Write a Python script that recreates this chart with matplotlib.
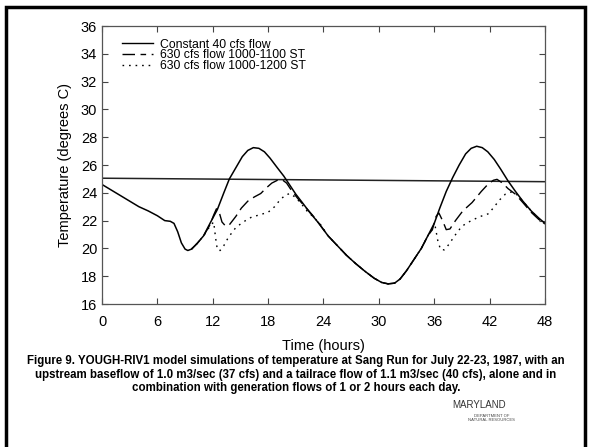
import numpy as np
import matplotlib
matplotlib.use('Agg')
import matplotlib.pyplot as plt
from matplotlib.patches import Rectangle
from matplotlib.lines import Line2D

plt.rcParams['font.family'] = ['Liberation Sans', 'DejaVu Sans']

# Constant 40 cfs flow (solid)
hours_const = [0, 1, 2, 3, 4, 5, 6, 6.8, 7.4, 7.8, 8.2, 8.6, 9.0, 9.3, 9.7, 10.3, 11, 11.7,
               12.5, 13.2, 13.8, 14.5, 15.2, 15.8, 16.4, 17, 17.6, 18.2, 19, 19.7, 20.3, 21,
               21.7, 22.5, 23.5, 24.5, 25.5, 26.5, 27.5, 28.5, 29.5, 30.3, 31, 31.7, 32.3, 33,
               33.8, 34.6, 35.3, 36, 36.6, 37.3, 38, 38.7, 39.4, 40, 40.6, 41.2, 41.8, 42.5,
               43.2, 44, 44.8, 45.6, 46.5, 47.3, 48]
temp_const = [24.6, 24.2, 23.8, 23.4, 23.0, 22.7, 22.35, 22.0, 21.95, 21.8, 21.2, 20.4, 19.95,
              19.85, 19.95, 20.35, 20.9, 21.8, 22.8, 24.0, 25.0, 25.8, 26.6, 27.05, 27.25, 27.2,
              26.95, 26.5, 25.8, 25.2, 24.6, 23.9, 23.3, 22.6, 21.8, 20.9, 20.2, 19.5, 18.9,
              18.35, 17.85, 17.55, 17.45, 17.5, 17.8, 18.4, 19.2, 20.0, 20.9, 21.8, 22.9, 24.1,
              25.1, 26.0, 26.8, 27.2, 27.35, 27.25, 26.95, 26.4, 25.7, 24.85, 24.1, 23.4, 22.7,
              22.2, 21.8]

# night trough shared by the two generation runs
hours_trough = [24.5, 25.5, 26.5, 27.5, 28.5, 29.5, 30.3, 31, 31.7, 32.3, 33, 33.8, 34.6, 35.3]
temp_trough = [20.9, 20.2, 19.5, 18.9, 18.35, 17.85, 17.55, 17.45, 17.5, 17.8, 18.4, 19.2,
               20.0, 20.9]

# 630 cfs flow 1000-1100 ST (dashed)
hours_1100_day1 = [9.7, 10.3, 11, 11.7, 12.1, 12.4, 12.7, 13.0, 13.4, 13.8, 14.5, 15.1, 15.8,
                   16.5, 17.2, 17.8, 18.4, 19.0, 19.5, 20.0, 20.5, 21.2, 22, 22.8, 23.5]
temp_1100_day1 = [19.95, 20.35, 20.9, 21.7, 22.4, 22.85, 22.6, 21.9, 21.6, 21.7, 22.3, 22.9,
                  23.4, 23.7, 23.95, 24.35, 24.7, 24.9, 24.95, 24.7, 24.2, 23.6, 23.0, 22.4, 21.8]
hours_1100_day2 = [35.8, 36.2, 36.5, 36.9, 37.3, 37.7, 38.3, 39.1, 40.1, 41.1, 41.8, 42.4, 42.8,
                   43.4, 44, 44.8, 45.6, 46.5, 47.3, 48]
temp_1100_day2 = [21.35, 22.3, 22.55, 22.0, 21.35, 21.4, 22.0, 22.7, 23.3, 24.1, 24.6, 24.9,
                  24.97, 24.7, 24.3, 23.9, 23.3, 22.6, 22.1, 21.75]

# 630 cfs flow 1000-1200 ST (dotted)
hours_1200_day1 = [9.7, 10.3, 11, 11.7, 12.1, 12.3, 12.5, 12.8, 13.2, 13.7, 14.5, 15.3, 16.2,
                   17, 18, 18.7, 19.3, 19.9, 20.4, 20.9, 21.5, 22.2, 23, 23.7]
temp_1200_day1 = [19.95, 20.35, 20.9, 21.6, 21.9, 20.8, 19.9, 19.85, 20.2, 20.8, 21.5, 21.9,
                  22.25, 22.4, 22.6, 23.0, 23.5, 23.85, 23.95, 23.7, 23.3, 22.7, 22.2, 21.7]
hours_1200_day2 = [35.8, 36.1, 36.4, 36.7, 37.1, 37.6, 38.2, 39, 40, 41, 41.9, 42.5, 43.1, 43.7,
                   44.3, 44.9, 45.6, 46.5, 47.3, 48]
temp_1200_day2 = [21.4, 21.6, 20.5, 19.9, 19.9, 20.3, 20.9, 21.6, 22.0, 22.3, 22.5, 23.0, 23.5,
                  23.9, 24.05, 23.9, 23.4, 22.7, 22.15, 21.75]

# horizontal reference line across the plot
hours_ref = [0, 48]
temp_ref = [25.05, 24.8]

xticks = [0, 6, 12, 18, 24, 30, 36, 42, 48]
yticks = [16, 18, 20, 22, 24, 26, 28, 30, 32, 34, 36]

caption = ("Figure 9. YOUGH-RIV1 model simulations of temperature at Sang Run for July 22-23, 1987, with an\n"
           "upstream baseflow of 1.0 m3/sec (37 cfs) and a tailrace flow of 1.1 m3/sec (40 cfs), alone and in\n"
           "combination with generation flows of 1 or 2 hours each day.")

fig = plt.figure(figsize=(5.92, 4.47), dpi=100)
ax = fig.add_axes([0.1723, 0.3199, 0.7483, 0.6219])

hours_1100 = hours_1100_day1 + hours_trough + hours_1100_day2
temp_1100 = temp_1100_day1 + temp_trough + temp_1100_day2
hours_1200 = hours_1200_day1 + hours_trough + hours_1200_day2
temp_1200 = temp_1200_day1 + temp_trough + temp_1200_day2

ax.plot(hours_ref, temp_ref, color='#222222', lw=1.1)
ax.plot(hours_const, temp_const, color='black', lw=1.1)
ax.plot(hours_1100, temp_1100, color='black', lw=1.0, dashes=(9, 4))
ax.plot(hours_1200, temp_1200, color='black', lw=1.0, dashes=(1.2, 3.5))

ax.set_xlim(0, 48)
ax.set_ylim(16, 36)
ax.set_xticks(xticks)
ax.set_yticks(yticks)
ax.tick_params(direction='in', length=4, width=0.8, labelsize=10.5, top=True, right=True,
               color='#444444')
ax.tick_params(axis='x', pad=8)
for s in ax.spines.values():
    s.set_color('#555555')
    s.set_linewidth(0.9)

ax.set_xlabel('Time (hours)', fontsize=10.5, labelpad=7)
ax.set_ylabel('Temperature (degrees C)', fontsize=10.5, labelpad=6)

handles = [Line2D([], [], color='black', lw=1.0),
           Line2D([], [], color='black', lw=1.0, dashes=(9, 4, 4, 4)),
           Line2D([], [], color='black', lw=1.0, dashes=(1.2, 3.5))]
labels = ['Constant 40 cfs flow', '630 cfs flow 1000-1100 ST', '630 cfs flow 1000-1200 ST']
ax.legend(handles, labels, loc='upper left', bbox_to_anchor=(0.025, 0.985), frameon=False,
          fontsize=8.8, handlelength=2.6, labelspacing=-0.12, handletextpad=0.55, borderpad=0.2)

fig.text(0.5, 0.205, caption, ha='center', va='top', fontsize=8.3, fontweight='bold',
         linespacing=1.15)

# logo placeholders as text
fig.text(0.81, 0.095, 'MARYLAND', fontsize=7, color='#333333', ha='center', va='center')
fig.text(0.83, 0.065, 'DEPARTMENT OF\nNATURAL RESOURCES', fontsize=3, color='#444444',
         ha='center', va='center')

# outer frame of the page
fig.patches.append(Rectangle((0.0105, -0.05), 0.9785, 1.034, transform=fig.transFigure,
                             fill=False, edgecolor='black', lw=2.5))

fig.savefig('out.png', dpi=100)
